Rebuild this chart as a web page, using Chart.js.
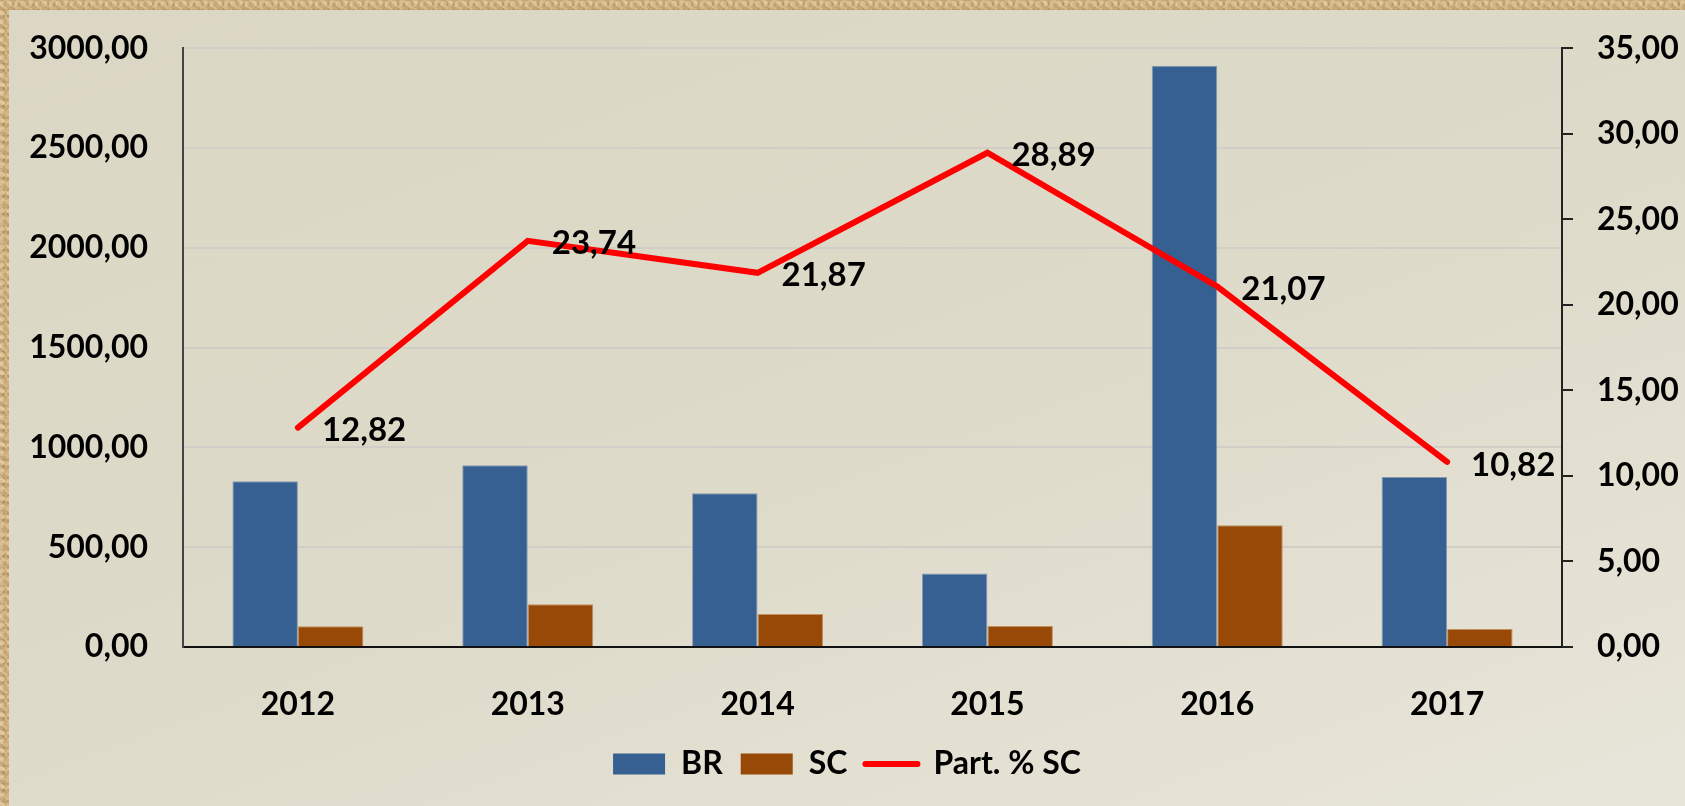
<!DOCTYPE html>
<html>
<head>
<meta charset="utf-8">
<script src="https://cdn.jsdelivr.net/npm/chart.js@4"></script>
<style>
  html, body { margin: 0; padding: 0; }
  body {
    width: 1685px; height: 806px; overflow: hidden;
    background-color: #cfb080;
    background-image:
      radial-gradient(circle at 30% 40%, rgba(255,240,205,0.35) 0 2px, transparent 3px),
      radial-gradient(circle at 70% 70%, rgba(120,80,30,0.25) 0 1px, transparent 2px),
      repeating-linear-gradient(37deg, rgba(120,80,30,0.12) 0 2px, rgba(255,240,200,0.12) 2px 5px, rgba(150,100,40,0.1) 5px 7px);
    background-size: 7px 9px, 5px 6px, auto;
  }
  #panel {
    position: absolute; left: 9px; top: 10px; width: 1676px; height: 796px;
    background: linear-gradient(160deg, #dbd7c4 0%, #dedac9 50%, #e8e5da 100%);
  }
  #chart { position: absolute; left: 0; top: 0; }
</style>
</head>
<body>
<div id="panel"><canvas id="chart" width="1676" height="796"></canvas></div>
<script>
// Values
const years = ['2012', '2013', '2014', '2015', '2016', '2017'];
const brValues = [830, 910, 770, 368, 2912, 852];
const scValues = [104, 214, 165, 105, 610, 90];
const partSc = [12.82, 23.74, 21.87, 28.89, 21.07, 10.82];

const FONT = 'Lato, "Open Sans", sans-serif';
const fmt = v => Number(v).toFixed(2).replace('.', ',');

// Draws the value next to each point of the line
const lineLabels = {
    id: 'lineLabels',
    afterDatasetsDraw(chart) {
        const meta = chart.getDatasetMeta(2);
        const ctx = chart.ctx;
        ctx.save();
        ctx.font = 'bold 33px ' + FONT;
        ctx.fillStyle = '#000';
        ctx.textAlign = 'left';
        ctx.textBaseline = 'middle';
        meta.data.forEach((pt, i) => {
            ctx.fillText(fmt(partSc[i]), pt.x + 24, pt.y + 3);
        });
        ctx.restore();
    }
};

new Chart(document.getElementById('chart').getContext('2d'), {
    type: 'bar',
    data: {
        labels: years,
        datasets: [
            {
                label: 'BR',
                data: brValues,
                backgroundColor: '#366092',
                borderColor: '#8497b0',
                borderWidth: 1,
                yAxisID: 'y',
                order: 1,
                categoryPercentage: 0.57,
                barPercentage: 1
            },
            {
                label: 'SC',
                data: scValues,
                backgroundColor: '#984807',
                borderColor: '#c09060',
                borderWidth: 1,
                yAxisID: 'y',
                order: 1,
                categoryPercentage: 0.57,
                barPercentage: 1
            },
            {
                type: 'line',
                label: 'Part. % SC',
                data: partSc,
                borderColor: '#ff0000',
                backgroundColor: '#ff0000',
                borderWidth: 6,
                borderCapStyle: 'round',
                pointRadius: 0,
                tension: 0,
                yAxisID: 'y1',
                order: 0
            }
        ]
    },
    options: {
        responsive: false,
        animation: false,
        layout: { padding: { top: 37, bottom: 16, left: 0, right: 0 } },
        plugins: {
            tooltip: { enabled: false },
            legend: {
                position: 'bottom',
                labels: {
                    usePointStyle: true,
                    pointStyleWidth: 52,
                    boxHeight: 21,
                    padding: 18,
                    color: '#000',
                    font: { family: FONT, size: 32, weight: 'bold' },
                    sort: (a, b) => a.datasetIndex - b.datasetIndex,
                    generateLabels(chart) {
                        const items = Chart.defaults.plugins.legend.labels.generateLabels(chart);
                        items.forEach(it => {
                            if (it.datasetIndex === 2) {
                                it.pointStyle = 'line';
                                it.lineWidth = 6;
                                it.lineCap = 'round';
                                it.strokeStyle = '#ff0000';
                            } else {
                                it.pointStyle = 'rect';
                                it.lineWidth = 0;
                            }
                        });
                        return items;
                    }
                }
            }
        },
        scales: {
            x: {
                grid: { display: false },
                border: { display: true, color: '#111', width: 2 },
                ticks: {
                    color: '#000',
                    padding: 30,
                    font: { family: FONT, size: 32, weight: 'bold' }
                },
                afterFit(scale) { scale.height = 83; }
            },
            y: {
                position: 'left',
                min: 0,
                max: 3000,
                ticks: {
                    stepSize: 500,
                    color: '#000',
                    padding: 35,
                    font: { family: FONT, size: 32, weight: 'bold', lineHeight: 0.2 },
                    callback: v => fmt(v)
                },
                grid: { color: '#d0cec6', lineWidth: 2, drawTicks: false },
                border: { display: true, color: '#444', width: 2 },
                afterFit(scale) { scale.width = 174; }
            },
            y1: {
                position: 'right',
                min: 0,
                max: 35,
                ticks: {
                    stepSize: 5,
                    color: '#000',
                    padding: 24,
                    font: { family: FONT, size: 32, weight: 'bold', lineHeight: 0.2 },
                    callback: v => fmt(v)
                },
                grid: { drawOnChartArea: false, drawTicks: true, tickLength: 11, color: '#222', lineWidth: 2 },
                border: { display: true, color: '#222', width: 2 },
                afterFit(scale) { scale.width = 123; }
            }
        }
    },
    plugins: [lineLabels]
});
</script>
</body>
</html>
